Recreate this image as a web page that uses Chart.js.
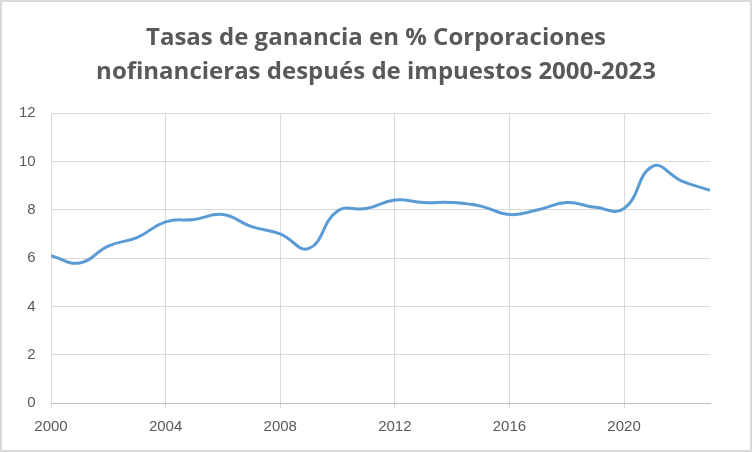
<!DOCTYPE html>
<html>
<head>
<meta charset="utf-8">
<script src="https://cdn.jsdelivr.net/npm/chart.js@4"></script>
<style>
  html, body { margin: 0; padding: 0; background: #fff; }
  #wrap { width: 748px; height: 448px; border: 2px solid #d9d9d9; }
</style>
</head>
<body>
<div id="wrap"><canvas id="chart" width="748" height="448"></canvas></div>
<script>
const years = [2000, 2001, 2002, 2003, 2004, 2005, 2006, 2007, 2008, 2009, 2010, 2011,
               2012, 2013, 2014, 2015, 2016, 2017, 2018, 2019, 2020, 2021, 2022, 2023];
const rates = [6.1, 5.8, 6.5, 6.85, 7.5, 7.6, 7.8, 7.3, 7.0, 6.4, 7.95, 8.05,
               8.4, 8.3, 8.3, 8.15, 7.8, 8.0, 8.3, 8.1, 8.05, 9.8, 9.2, 8.8];
const xTicks = [2000, 2004, 2008, 2012, 2016, 2020];
const titleLines = ['Tasas de ganancia en % Corporaciones', 'nofinancieras después de impuestos 2000-2023'];

const gray = '#595959';
const grid = '#d9d9d9';

new Chart(document.getElementById('chart'), {
    type: 'line',
    data: {
        datasets: [{
            label: 'Tasa de ganancia',
            data: years.map((y, i) => ({ x: y, y: rates[i] })),
            borderColor: '#5b9bd5',
            borderWidth: 3,
            tension: 0.45,
            pointRadius: 0,
            fill: false
        }]
    },
    options: {
        responsive: false,
        animation: false,
        layout: { padding: { left: 40, right: 40, top: 4, bottom: 4 } },
        plugins: {
            legend: { display: false },
            tooltip: { enabled: false },
            title: {
                display: true,
                text: titleLines,
                color: gray,
                font: { family: 'Open Sans', size: 24, weight: 'bold', lineHeight: 1.42 },
                padding: { top: 15, bottom: 24 }
            }
        },
        scales: {
            x: {
                type: 'linear',
                min: 2000,
                max: 2023,
                afterBuildTicks: axis => { axis.ticks = xTicks.map(v => ({ value: v })); },
                ticks: {
                    color: gray,
                    font: { family: 'Liberation Sans', size: 15 },
                    callback: v => String(v),
                    padding: 10
                },
                grid: { color: grid, tickLength: 5, drawTicks: true },
                border: { color: '#bfbfbf' }
            },
            y: {
                min: 0,
                max: 12,
                afterFit: axis => { axis.width = 9; },
                ticks: {
                    stepSize: 2,
                    color: gray,
                    font: { family: 'Liberation Sans', size: 15 },
                    mirror: true,
                    crossAlign: 'far',
                    padding: -32
                },
                grid: { color: grid, drawTicks: false },
                border: { color: grid }
            }
        }
    }
});
</script>
</body>
</html>
